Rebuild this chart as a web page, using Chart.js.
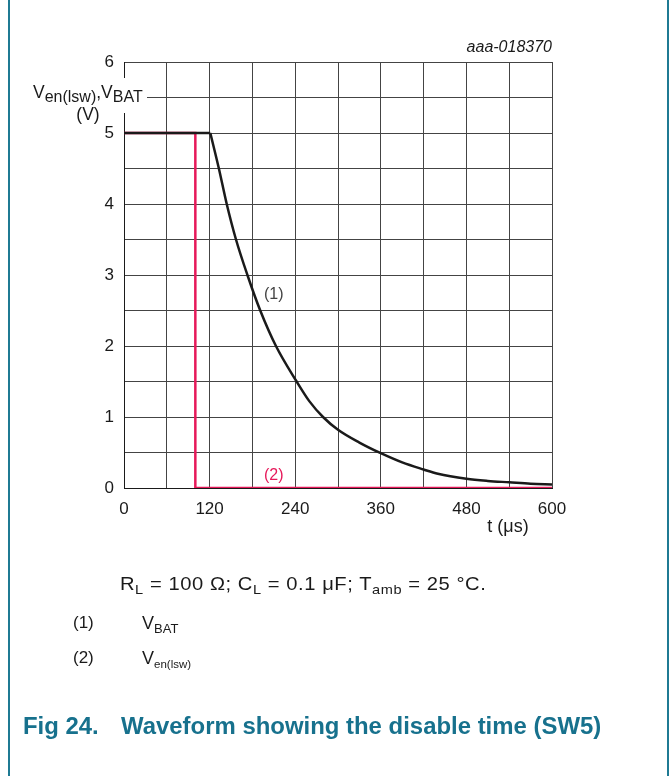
<!DOCTYPE html>
<html>
<head>
<meta charset="utf-8">
<script src="https://cdn.jsdelivr.net/npm/chart.js@4.4.0/dist/chart.umd.min.js"></script>
<style>
  body { margin: 0; background: #fff; font-family: "Liberation Sans", Arial, sans-serif; }
  #wrap { position: relative; width: 670px; height: 776px; overflow: hidden; }
  canvas { position: absolute; left: 0; top: 0; }
  .frame { position: absolute; top: 0; bottom: 0; width: 2px; background: #1f7a93; }
  .txt { position: absolute; font-size: 18px; line-height: 18px; color: #1a1a1a; white-space: nowrap; }
  .txt sub { font-size: 13px; vertical-align: -4px; line-height: 0; }
  .txt sub.small { font-size: 11.5px; }
  .wide { transform: scaleX(1.12); transform-origin: 0 0; letter-spacing: 0.5px; }
  .cap { position: absolute; top: 715px; font-weight: bold; font-size: 23px; line-height: 23px; color: #17718d; white-space: nowrap; transform: scaleX(1.04); transform-origin: 0 0; }
</style>
</head>
<body>
<div id="wrap">
  <div class="frame" style="left:8px"></div>
  <div class="frame" style="left:667px"></div>
  <canvas id="chart" width="670" height="776"></canvas>

  <div class="txt wide" style="left:120px; top:575px">R<sub>L</sub> = 100 Ω; C<sub>L</sub> = 0.1 μF; T<sub>amb</sub> = 25 °C.</div>
  <div class="txt" style="left:73px; top:614px; font-size:17px">(1)</div>
  <div class="txt" style="left:142px; top:614px">V<sub>BAT</sub></div>
  <div class="txt" style="left:73px; top:649px; font-size:17px">(2)</div>
  <div class="txt" style="left:142px; top:649px">V<sub class="small">en(lsw)</sub></div>

  <div class="cap" style="left:23px">Fig 24.</div>
  <div class="cap" style="left:121px">Waveform showing the disable time (SW5)</div>
</div>

<script>
// (1) VBAT (flat until ~121 us, then decays)
const tBat = [0, 121, 133, 144, 157, 173, 191, 213, 242, 260, 279, 300, 330, 360, 390, 420, 440, 480, 510, 540, 570, 600];
const vBat = [5, 5, 4.5, 4, 3.5, 3, 2.5, 2, 1.5, 1.22, 1, 0.82, 0.64, 0.49, 0.36, 0.26, 0.2, 0.13, 0.1, 0.08, 0.06, 0.05];
const batKnee = 1; // index of the corner where the decay starts
// (2) Ven(lsw)
const tEn = [0, 100, 100, 600];
const vEn = [5, 5, 0, 0];

const xLabels = [0, 120, 240, 360, 480, 600];
const yLabels = [0, 1, 2, 3, 4, 5, 6];

const FONT = '"Liberation Sans", Arial, sans-serif';
const INK = '#1a1a1a';
const PINK = '#e6195a';

const toPoints = (xs, ys) => xs.map((x, i) => ({ x: x, y: ys[i] }));
const batPoints = toPoints(tBat, vBat);

// y-axis title sits over the axis line on a white box, plus curve labels
const extraText = {
  id: 'extraText',
  afterDraw(chart) {
    const ctx = chart.ctx;
    const xs = chart.scales.x, ys = chart.scales.y;
    ctx.save();

    ctx.fillStyle = '#fff';
    ctx.fillRect(30, 78, 117, 35);
    ctx.fillStyle = INK;
    ctx.textAlign = 'left';
    ctx.textBaseline = 'alphabetic';
    let x = 33;
    [['V', 0], ['en(lsw)', 1], [',V', 0], ['BAT', 1]].forEach(([s, sub]) => {
      ctx.font = (sub ? '16px ' : '17.5px ') + FONT;
      ctx.fillText(s, x, sub ? 102 : 98);
      x += ctx.measureText(s).width;
    });
    ctx.font = '17.5px ' + FONT;
    ctx.textAlign = 'center';
    ctx.fillText('(V)', 88, 120);

    ctx.textBaseline = 'middle';
    ctx.font = '16px ' + FONT;
    ctx.fillStyle = '#444';
    ctx.fillText('(1)', xs.getPixelForValue(210), ys.getPixelForValue(2.72));
    ctx.fillStyle = PINK;
    ctx.fillText('(2)', xs.getPixelForValue(210), ys.getPixelForValue(0.18));

    ctx.fillStyle = INK;
    ctx.font = '18px ' + FONT;
    ctx.fillText('t (μs)', 508, 527);

    ctx.textAlign = 'right';
    ctx.font = 'italic 16px ' + FONT;
    ctx.fillText('aaa-018370', xs.right, 48);
    ctx.restore();
  }
};

new Chart(document.getElementById('chart'), {
  type: 'line',
  data: {
    datasets: [{
      label: 'VBAT',
      data: batPoints.slice(batKnee),
      borderColor: INK,
      borderWidth: 2.5,
      pointRadius: 0,
      cubicInterpolationMode: 'monotone'
    }, {
      label: 'VBAT flat',
      data: batPoints.slice(0, batKnee + 1),
      borderColor: INK,
      borderWidth: 2.5,
      pointRadius: 0,
      tension: 0
    }, {
      label: 'Ven(lsw)',
      data: toPoints(tEn, vEn),
      borderColor: PINK,
      borderWidth: 2.5,
      pointRadius: 0,
      tension: 0
    }]
  },
  options: {
    responsive: false,
    animation: false,
    events: [],
    layout: { padding: { left: 0, top: 62, right: 118, bottom: 248 } },
    plugins: { legend: { display: false }, tooltip: { enabled: false } },
    scales: {
      x: {
        type: 'linear',
        min: 0,
        max: 600,
        afterFit: s => { s.height = 40; },
        ticks: {
          stepSize: 60,
          autoSkip: false,
          maxRotation: 0,
          padding: 11,
          color: INK,
          font: { family: FONT, size: 17 },
          callback: v => (xLabels.includes(v) ? v : '')
        },
        grid: { color: '#444', lineWidth: 1, drawTicks: false },
        border: { color: INK, width: 1 }
      },
      y: {
        min: 0,
        max: 6,
        afterFit: s => { s.width = 124; },
        ticks: {
          stepSize: 0.5,
          autoSkip: false,
          padding: 10,
          color: INK,
          font: { family: FONT, size: 17 },
          callback: v => (yLabels.includes(v) ? v : '')
        },
        grid: { color: '#444', lineWidth: 1, drawTicks: false },
        border: { color: INK, width: 1 }
      }
    }
  },
  plugins: [extraText]
});
</script>
</body>
</html>
